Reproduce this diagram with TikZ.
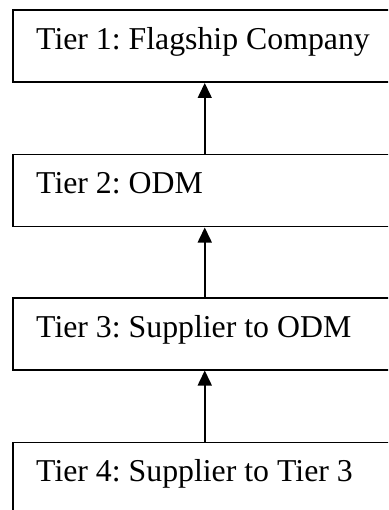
\documentclass[tikz,border=0pt]{standalone}
\usepackage{fontspec}
\setmainfont{Liberation Serif}
\usetikzlibrary{arrows.meta}
\frenchspacing
\begin{document}
\begin{tikzpicture}[x=1pt, y=-1pt,
  tierbox/.style={draw, line width=1.5pt, rectangle, anchor=north west,
    inner sep=0pt, minimum width=384pt, minimum height=72pt},
  tierlabel/.style={anchor=base west, inner sep=0pt,
    font=\fontsize{31.8}{36}\selectfont},
  uparrow/.style={line width=1.6pt, -{Triangle[width=14pt, length=15pt]}}]
  \clip (0,0) rectangle (388,510);
  % tier boxes, stacked top to bottom
  \node[tierbox] (b1) at (12,9.5) {};
  \node[tierbox] (b2) at (12,154) {};
  \node[tierbox] (b3) at (12,297) {};
  \node[tierbox, minimum height=100pt] (b4) at (12,441.5) {};
  % labels
  \node[tierlabel] (l1) at (36,50) {Tier 1: Flagship Company};
  \node[tierlabel] (l2) at (36,193.5) {Tier 2: ODM};
  \node[tierlabel] (l3) at (36,337.5) {Tier 3: Supplier to ODM};
  \node[tierlabel] (l4) at (36,481.5) {Tier 4: Supplier to Tier 3};
  % each tier supplies the one above it
  \draw[uparrow] (b2.north) -- (b1.south);
  \draw[uparrow] (b3.north) -- (b2.south);
  \draw[uparrow] (b4.north) -- (b3.south);
\end{tikzpicture}
\end{document}
